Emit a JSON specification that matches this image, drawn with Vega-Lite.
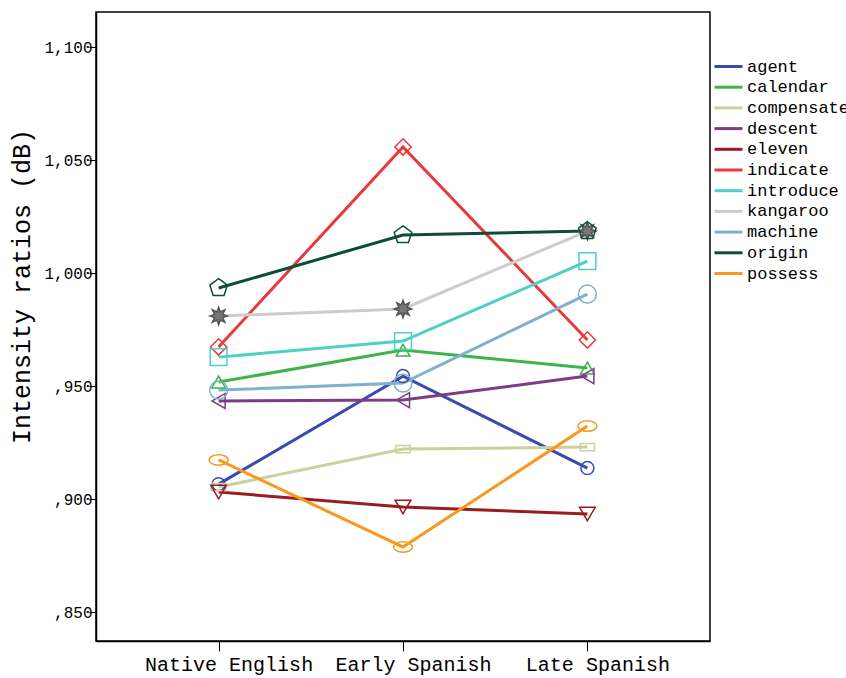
{
  "$schema": "https://vega.github.io/schema/vega-lite/v6.json",
  "width": 614,
  "height": 629,
  "autosize": "none",
  "padding": {"left": 96, "top": 12, "right": 136, "bottom": 37},
  "background": "white",
  "config": {
    "font": "Liberation Mono",
    "view": {"stroke": "black", "strokeWidth": 1.5}
  },
  "data": {
    "values": [
      {"word": "agent", "group": "Native English", "value": 0.9066},
      {"word": "agent", "group": "Early Spanish", "value": 0.9544},
      {"word": "agent", "group": "Late Spanish", "value": 0.9137},
      {"word": "calendar", "group": "Native English", "value": 0.9518},
      {"word": "calendar", "group": "Early Spanish", "value": 0.9659},
      {"word": "calendar", "group": "Late Spanish", "value": 0.958},
      {"word": "compensate", "group": "Native English", "value": 0.9053},
      {"word": "compensate", "group": "Early Spanish", "value": 0.9221},
      {"word": "compensate", "group": "Late Spanish", "value": 0.923},
      {"word": "descent", "group": "Native English", "value": 0.9434},
      {"word": "descent", "group": "Early Spanish", "value": 0.9438},
      {"word": "descent", "group": "Late Spanish", "value": 0.9544},
      {"word": "eleven", "group": "Native English", "value": 0.9031},
      {"word": "eleven", "group": "Early Spanish", "value": 0.8965},
      {"word": "eleven", "group": "Late Spanish", "value": 0.8934},
      {"word": "indicate", "group": "Native English", "value": 0.9673},
      {"word": "indicate", "group": "Early Spanish", "value": 1.0558},
      {"word": "indicate", "group": "Late Spanish", "value": 0.9704},
      {"word": "introduce", "group": "Native English", "value": 0.9628},
      {"word": "introduce", "group": "Early Spanish", "value": 0.9699},
      {"word": "introduce", "group": "Late Spanish", "value": 1.0053},
      {"word": "kangaroo", "group": "Native English", "value": 0.981},
      {"word": "kangaroo", "group": "Early Spanish", "value": 0.9841},
      {"word": "kangaroo", "group": "Late Spanish", "value": 1.0186},
      {"word": "machine", "group": "Native English", "value": 0.9482},
      {"word": "machine", "group": "Early Spanish", "value": 0.9513},
      {"word": "machine", "group": "Late Spanish", "value": 0.9907},
      {"word": "origin", "group": "Native English", "value": 0.9934},
      {"word": "origin", "group": "Early Spanish", "value": 1.0168},
      {"word": "origin", "group": "Late Spanish", "value": 1.0186},
      {"word": "possess", "group": "Native English", "value": 0.9173},
      {"word": "possess", "group": "Early Spanish", "value": 0.8788},
      {"word": "possess", "group": "Late Spanish", "value": 0.9323}
    ]
  },
  "encoding": {
    "x": {
      "field": "group",
      "type": "ordinal",
      "sort": ["Native English", "Early Spanish", "Late Spanish"],
      "scale": {"type": "point", "padding": 0.665},
      "axis": {
        "title": null,
        "labelAngle": 0,
        "labelFontSize": 20,
        "labelColor": "black",
        "labelOffset": 10,
        "tickColor": "black",
        "tickSize": 10,
        "labelPadding": 3,
        "domainColor": "black",
        "domainWidth": 1.5,
        "grid": false
      }
    },
    "y": {
      "field": "value",
      "type": "quantitative",
      "scale": {"domain": [0.8372, 1.1155], "nice": false, "zero": false},
      "axis": {
        "title": "Intensity ratios (dB)",
        "titleFontSize": 25,
        "titleFontWeight": "normal",
        "titleColor": "black",
        "titleX": -75,
        "titleY": 274,
        "titleBaseline": "middle",
        "titleAlign": "center",
        "titleAngle": -90,
        "values": [0.85, 0.9, 0.95, 1.0, 1.05, 1.1],
        "labelExpr": "replace(substring(format(datum.value, '.3f'), datum.value < 0.999 ? 1 : 0), '.', ',')",
        "labelFontSize": 16,
        "labelColor": "black",
        "tickColor": "black",
        "tickSize": 7,
        "labelPadding": -3,
        "domainColor": "black",
        "domainWidth": 1.5,
        "grid": false
      }
    }
  },
  "layer": [
    {
      "mark": {"type": "line", "strokeWidth": 3},
      "encoding": {
        "color": {
          "field": "word",
          "type": "nominal",
          "scale": {
            "domain": ["agent", "calendar", "compensate", "descent", "eleven", "indicate", "introduce", "kangaroo", "machine", "origin", "possess"],
            "range": ["#3a4aae", "#3cb44b", "#cdd09c", "#7e3b87", "#9b1b1e", "#e8393b", "#4ecfc8", "#cccccc", "#7fb0cc", "#0d4d36", "#f8981d"]
          },
          "legend": {
            "title": null,
            "orient": "none",
            "legendX": 624,
            "legendY": 46,
            "symbolType": "M-2,0H2",
            "symbolStrokeWidth": 3,
            "symbolSize": 196,
            "labelFontSize": 17,
            "labelColor": "black",
            "labelOffset": 10,
            "rowPadding": 2.7
          }
        }
      }
    },
    {
      "mark": {"type": "point", "filled": true, "opacity": 1, "strokeWidth": 1.5},
      "encoding": {
        "shape": {
          "field": "word",
          "type": "nominal",
          "scale": {
            "domain": ["possess", "origin", "machine", "kangaroo", "introduce", "indicate", "eleven", "descent", "compensate", "calendar", "agent"],
            "range": ["M-1,0A1,0.55,0,1,0,1,0A1,0.55,0,1,0,-1,0Z", "M0,-1L0.95,-0.31L0.59,0.81L-0.59,0.81L-0.95,-0.31Z", "circle", "M1,0L0.46,0.19L0.71,0.71L0.19,0.46L0,1L-0.19,0.46L-0.71,0.71L-0.46,0.19L-1,0L-0.46,-0.19L-0.71,-0.71L-0.19,-0.46L0,-1L0.19,-0.46L0.71,-0.71L0.46,-0.19Z", "square", "diamond", "triangle-down", "triangle-left", "M-1,-0.5H1V0.5H-1Z", "triangle-up", "circle"]
          },
          "legend": null
        },
        "size": {
          "field": "word",
          "type": "nominal",
          "scale": {
            "domain": ["possess", "origin", "machine", "kangaroo", "introduce", "indicate", "eleven", "descent", "compensate", "calendar", "agent"],
            "range": [361, 169, 225, 169, 144, 256, 169, 169, 256, 169, 144]
          },
          "legend": null
        },
        "stroke": {
          "field": "word",
          "type": "nominal",
          "scale": {
            "domain": ["possess", "origin", "machine", "kangaroo", "introduce", "indicate", "eleven", "descent", "compensate", "calendar", "agent"],
            "range": ["#f8981d", "#0d4d36", "#7fb0cc", "#555555", "#4ecfc8", "#e8393b", "#9b1b1e", "#7e3b87", "#cdd09c", "#3cb44b", "#3a4aae"]
          },
          "legend": null
        },
        "fill": {
          "field": "word",
          "type": "nominal",
          "scale": {
            "domain": ["possess", "origin", "machine", "kangaroo", "introduce", "indicate", "eleven", "descent", "compensate", "calendar", "agent"],
            "range": ["transparent", "transparent", "transparent", "#777777", "transparent", "transparent", "transparent", "transparent", "transparent", "transparent", "transparent"]
          },
          "legend": null
        }
      }
    }
  ]
}
